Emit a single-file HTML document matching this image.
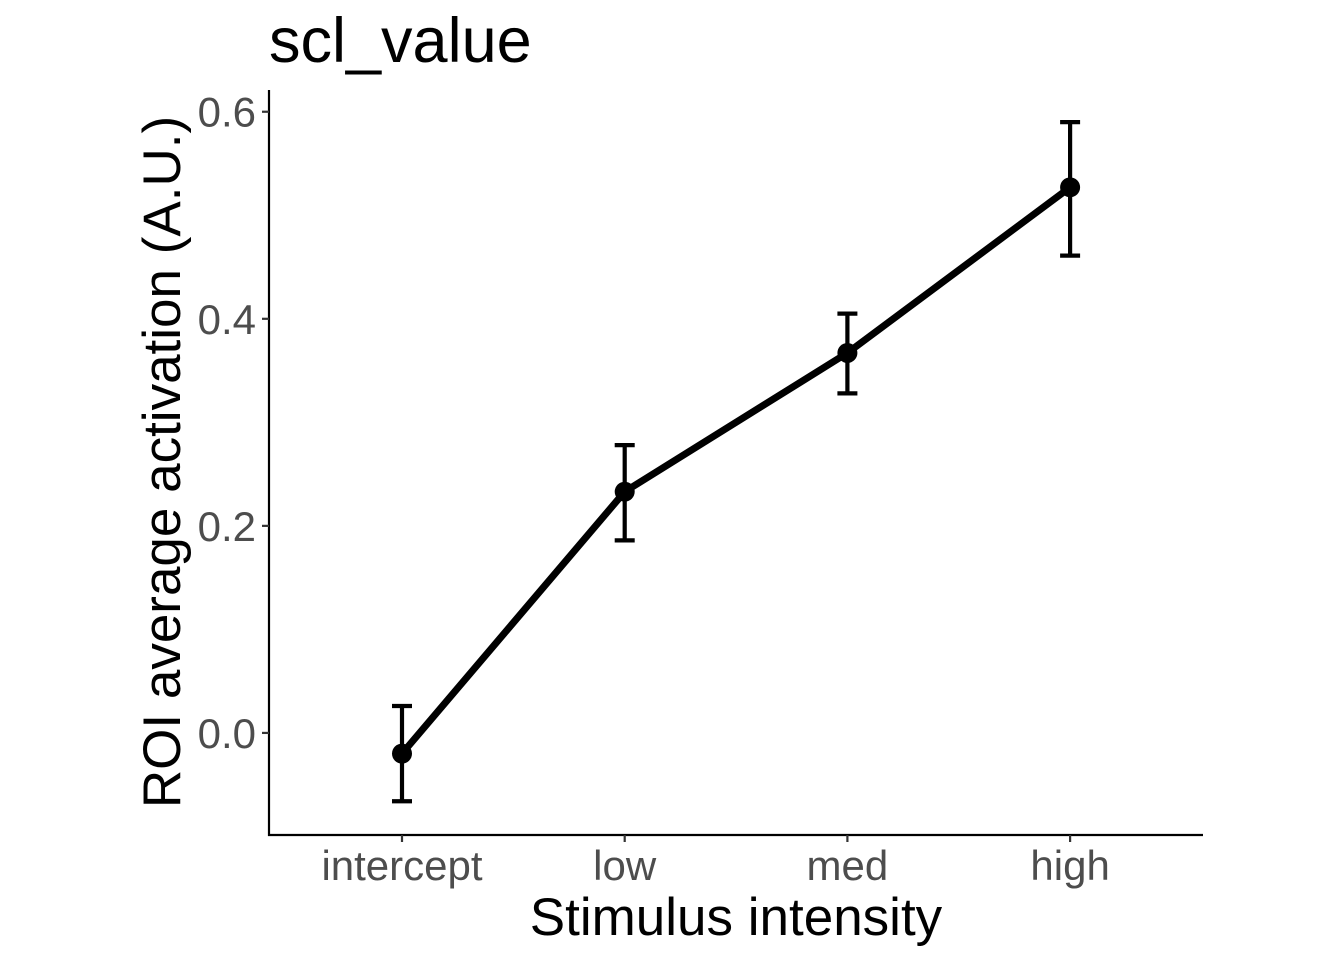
<!DOCTYPE html>
<html><head><meta charset="utf-8"><style>
body{margin:0;background:#fff;}
svg{display:block;font-family:"Liberation Sans",Arial,sans-serif;}
</style></head><body>
<svg id="chart" width="1344" height="960">
<text x="269" y="62" font-size="63" fill="#000">scl_value</text>
<text x="736" y="935" font-size="53" text-anchor="middle" fill="#000">Stimulus intensity</text>
<text transform="translate(180,462) rotate(-90)" font-size="53" text-anchor="middle" fill="#000">ROI average activation (A.U.)</text>
<g id="plot"></g>
</svg>
<script>
const categories=["intercept","low","med","high"];
const means=[-0.02,0.233,0.367,0.527];
const upper=[0.026,0.278,0.405,0.590];
const lower=[-0.066,0.186,0.328,0.461];
const yTicks=[0.0,0.2,0.4,0.6];
const yTickLabels=["0.0","0.2","0.4","0.6"];

const NS="http://www.w3.org/2000/svg";
const g=document.getElementById('plot');
const pL=269,pR=1203,pT=90,pB=835;
const yMin=-0.0986,yMax=0.621;
const y=v=>pB-(v-yMin)/(yMax-yMin)*(pB-pT);
const x=i=>402+i*222.7;
function mk(t,a){const e=document.createElementNS(NS,t);for(const k in a)e.setAttribute(k,a[k]);g.appendChild(e);return e;}
let e;
e=mk('line',{x1:pL,y1:pT,x2:pL,y2:pB+1,stroke:'#000','stroke-width':2.2});


e=mk('line',{x1:pL-1,y1:pB,x2:pR,y2:pB,stroke:'#000','stroke-width':2.2});


yTicks.forEach((v,i)=>{
 e=mk('line',{x1:pL-7,y1:y(v),x2:pL,y2:y(v),stroke:'#333','stroke-width':2.2});
 
 
 e=mk('text',{x:pL-13,y:y(v)+15,'font-size':42,fill:'#4D4D4D','text-anchor':'end'});
 e.textContent=yTickLabels[i];
 
 
});
categories.forEach((c,i)=>{
 e=mk('line',{x1:x(i),y1:pB,x2:x(i),y2:pB+7,stroke:'#333','stroke-width':2.2});
 
 
 e=mk('text',{x:x(i),y:pB+45,'font-size':42,fill:'#4D4D4D','text-anchor':'middle'});
 e.textContent=c;
 
 
});
e=mk('polyline',{points:means.map((v,i)=>x(i)+','+y(v)).join(' '),fill:'none',stroke:'#000','stroke-width':7,'stroke-linejoin':'round'});


means.forEach((v,i)=>{
 const cx=x(i);
 e=mk('path',{d:`M${cx-10},${y(upper[i])}H${cx+10}M${cx},${y(upper[i])}V${y(lower[i])}M${cx-10},${y(lower[i])}H${cx+10}`,stroke:'#000','stroke-width':4.2,fill:'none'});
 
 
 e=mk('circle',{cx:cx,cy:y(v),r:10,fill:'#000'});
 
 
});
</script>
</body></html>
